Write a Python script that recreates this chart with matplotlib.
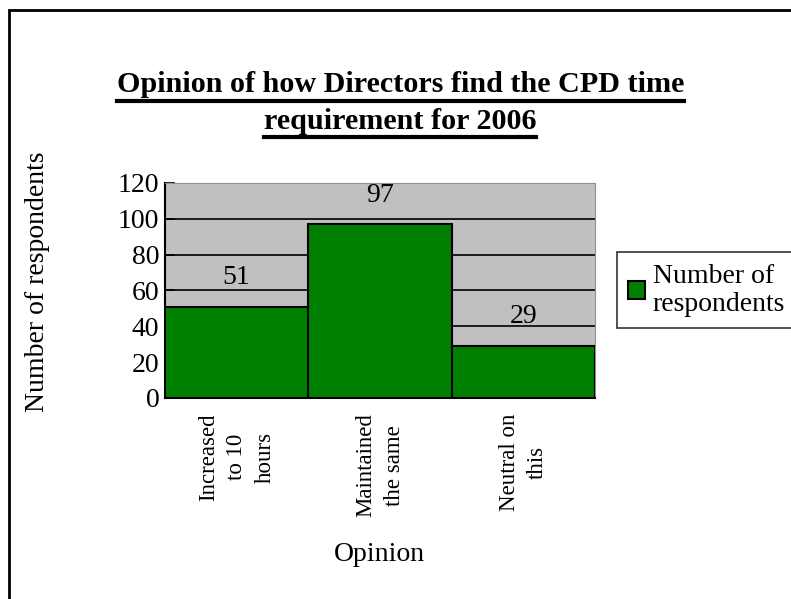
import matplotlib
matplotlib.use("Agg")
import matplotlib.pyplot as plt
from matplotlib.patches import Rectangle
from matplotlib.lines import Line2D
import numpy as np

plt.rcParams['font.family'] = ['Liberation Serif', 'DejaVu Serif']

categories = ["Increased\nto 10\nhours", "Maintained\nthe same", "Neutral on\nthis"]
respondents = [51, 97, 29]
yticks = [0, 20, 40, 60, 80, 100, 120]
title_lines = ["Opinion of how Directors find the CPD time", "requirement for 2006"]

fig = plt.figure(figsize=(7.91, 5.99), dpi=100)
ax = fig.add_axes([0.2086, 0.3356, 0.5434, 0.3589])

ax.set_facecolor('#C0C0C0')
x = np.arange(len(categories))
bars = ax.bar(x, respondents, width=1.0, color='#008000', edgecolor='black',
              linewidth=1.5, zorder=3, label='Number of respondents')
ax.set_xlim(-0.5, len(categories) - 0.5)
ax.set_ylim(0, 120)
ax.set_yticks(yticks)
ax.yaxis.grid(True, color='black', linewidth=1.2, zorder=1)
ax.set_axisbelow(True)
ax.tick_params(axis='y', direction='in', length=7, width=1.2, labelsize=20, pad=4)
ax.tick_params(axis='x', length=0, labelsize=16.5, pad=11)
ax.set_xticks(x)
ax.set_xticklabels(categories, rotation=90, multialignment='center', linespacing=1.45)
for sp in ['top', 'right']:
    ax.spines[sp].set_color('#909090')
for sp in ['left', 'bottom']:
    ax.spines[sp].set_linewidth(1.5)

for xi, v in zip(x, respondents):
    ax.annotate(str(v), (xi, v), xytext=(0, 12), textcoords='offset points',
                ha='center', va='bottom', fontsize=20)

ax.set_ylabel('Number of respondents', fontsize=20)
ax.set_xlabel('Opinion', fontsize=20)
ax.yaxis.set_label_coords(-0.268, 0.54)
ax.xaxis.set_label_coords(0.5, -0.67)

leg = ax.legend(loc='center left', bbox_to_anchor=(1.051, 0.5), fontsize=20,
                frameon=True, fancybox=False, edgecolor='black',
                handlelength=0.6, handleheight=0.6, handletextpad=0.3,
                borderpad=0.4, labelspacing=0.2, borderaxespad=0)
leg.get_frame().set_linewidth(1.2)
leg.get_texts()[0].set_text('Number of\nrespondents')

# figure frame
fig.patches.append(Rectangle((9 / 791, -0.1), 1.2, 1.1 - 10 / 599,
                             transform=fig.transFigure, fill=False,
                             edgecolor='black', linewidth=2))

# underlined bold title
renderer = fig.canvas.get_renderer()
for line, yb in zip(title_lines, [0.846, 0.785]):
    t = fig.text(0.506, yb, line, ha='center', va='baseline', fontsize=21.7,
                 fontweight='bold')
    bb = t.get_window_extent(renderer=renderer)
    yl = yb - 0.014
    fig.add_artist(Line2D([bb.x0 / fig.bbox.width, bb.x1 / fig.bbox.width], [yl, yl],
                          transform=fig.transFigure, color='black', linewidth=3))

fig.savefig('out.png', dpi=100)
